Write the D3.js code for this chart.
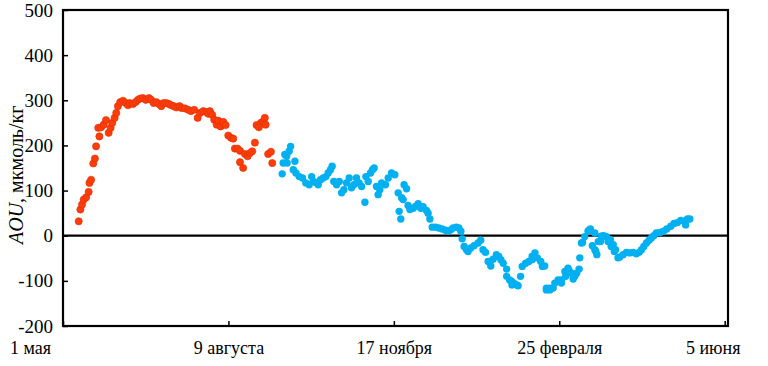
<!DOCTYPE html>
<html>
<head>
<meta charset="utf-8">
<script src="https://cdn.jsdelivr.net/npm/d3@7"></script>
<style>
  body { margin: 0; background: #fff; }
  svg text { font-family: "Liberation Serif", "Times New Roman", serif; }
</style>
</head>
<body>
<div id="chart"></div>
<script>
// Days counted from 1 May; values in мкмоль/кг
const redDays = [9.5, 10.5, 11.5, 12.5, 14, 15.5, 16, 17, 18.3, 19.3, 20, 22, 21.3, 23, 24.6, 26, 27.6, 28.8, 29.8,
  31.2, 32.2, 33.2, 34.6, 36.3, 37.9, 39.3, 40.3, 42.3, 43.9, 45.3, 46.7, 48.3, 50, 52, 53.3, 54.8, 56.4, 58, 59.4,
  60.8, 62.4, 64, 65.4, 67, 68.5, 70.5, 71.7, 73.7, 75.7, 77.3, 79.3, 81.4, 82.8, 84.8, 86.8, 87.8, 88.8, 90.2, 91.4,
  92.9, 93.8, 95.3, 96.9, 98.3, 99.9, 101.5, 102.9, 103.9, 105.5, 107, 107, 108.9, 110, 111.6, 113, 114.4, 116, 117,
  118.4, 119.6, 121, 122, 122.5, 124, 125.7, 126.5];
const redValues = [32, 58, 69, 80, 85, 97, 117, 124, 160, 171, 198, 220, 239, 240, 246, 256, 228, 239, 250,
  261, 272, 287, 296, 299, 294, 289, 294, 292, 296, 301, 304, 305, 301, 305, 301, 294, 296, 292, 287,
  294, 294, 292, 289, 287, 284, 287, 283, 282, 279, 276, 279, 261, 272, 276, 274, 270, 276, 268, 257,
  246, 255, 242, 252, 245, 222, 217, 215, 193, 193, 188, 163, 150, 181, 176, 183, 187, 206, 245,
  240, 250, 253, 261, 246, 181, 186, 161];

const blueDays = [132.5, 133.1, 134.1, 135.2, 135.5, 136.7, 137.6, 139.2, 140.2, 140.8, 142.8, 144.8, 146.8, 148.8,
  150.3, 151.3, 152.9, 154.3, 155.7, 157.3, 158.9, 160.3, 161.7, 162.7, 163.7, 165.4, 167, 168.4, 169.8, 171.4, 173,
  174.4, 175.8, 177.4, 179, 180.5, 182.5, 183.1, 184.5, 185.9, 187.1, 188.1, 189.5, 190.5, 191.5, 192.6, 194.9, 196.6,
  198.6, 200.6, 202.6, 203.2, 204.2, 204.7, 205.6, 206.2, 207.7, 208.6, 209.7, 211.7, 213.1, 214.7, 216.3, 217.7,
  219.7, 220.7, 221.8, 223.2, 225.2, 227.2, 229.2, 231.2, 232.8, 234.4, 235.8, 237.8, 239.3, 240.5, 241.3, 242.5,
  243.9, 244.9, 246.5, 248.5, 250.9, 252.5, 253.9, 255.4, 257, 258.6, 260, 262, 263.4, 264.7, 266.1, 268.2, 268.2,
  270, 271.1, 271.4, 272.5, 274.4, 275.1, 276.6, 277.6, 279.7, 281.6, 283.6, 283.6, 285.3, 286.7, 288.8, 289.8,
  291.2, 292.2, 292.2, 294.3, 294.3, 296.3, 297.3, 299.3, 301.3, 301.3, 303.4, 303.9, 305.3, 305.9, 307.4, 308.4,
  309.4, 310.5, 312, 312.4, 313.4, 314.1, 315.4, 317.4, 318, 318.8, 320, 321.5, 321.5, 322.1, 322.7, 323.6, 324.9,
  325.4, 326.5, 327.5, 328.5, 329.5, 330.9, 331.4, 332.6, 333.3, 334, 335.5, 336.6, 338.6, 340.6, 342.6, 344.6,
  346.6, 348.2, 349.7, 351.1, 352.7, 354.3, 355.7, 357.1, 358.7, 361, 363, 365, 367.4, 369.4, 371.4, 373.4, 375.4,
  376.4, 377.5, 378.9];
const blueValues = [137, 161, 180, 176, 161, 187, 198, 146, 165, 139, 131, 128, 117, 113,
  131, 120, 118, 113, 124, 128, 131, 139, 146, 154, 120, 113, 120, 95, 102, 117, 128,
  106, 113, 128, 117, 109, 74, 131, 120, 139, 146, 150, 109, 91, 102, 117, 113, 128,
  139, 135, 95, 54, 37, 84, 80, 113, 104, 67, 58, 61, 65, 71, 61, 64,
  56, 50, 37, 19, 19, 17, 15, 12, 10, 13, 17, 19, 17, 10, -7, -24,
  -31, -35, -27, -22, -16, -10, -31, -37, -57, -67, -52, -42, -46, -53, -61, -74, -90,
  -98, -101, -109, -105, -109, -111, -90, -68, -61, -57, -46, -53, -38, -49, -57, -68,
  -67, -116, -120, -120, -116, -116, -105, -98, -98, -105, -79, -90, -72, -77, -83, -96,
  -90, -83, -74, -49, -16, -15, -2, 10, 12, 15, -22, 6, -31, -35, -42, -13, -13,
  -1, 0, -1, -2, -13, -9, -24, -20, -35, -31, -49, -47, -42, -37, -38, -37,
  -40, -37, -31, -24, -16, -10, -5, 0, 6, 7, 10, 15, 21, 27, 29, 34, 32,
  24, 37, 37];

const yTicks = [-200, -100, 0, 100, 200, 300, 400, 500];
const xTicks = [0, 100, 200, 300, 400];
const xTickLabels = ["1 мая", "9 августа", "17 ноября", "25 февраля", "5 июня"];

const W = 768, H = 366;
const margin = { top: 10, right: 40, bottom: 40, left: 63 };
const width = W - margin.left - margin.right;
const height = H - margin.top - margin.bottom;

const svg = d3.select("#chart").append("svg")
  .attr("width", W)
  .attr("height", H);

const g = svg.append("g")
  .attr("transform", `translate(${margin.left},${margin.top})`);

const x = d3.scaleLinear().domain([0, 402]).range([0, width]);
const y = d3.scaleLinear().domain([-200, 500]).range([height, 0]);

// y axis, ticks pointing inward (plain hyphen for negatives, as in the original)
const yAxis = g.append("g")
  .call(d3.axisLeft(y).tickValues(yTicks).tickFormat(d => String(d))
    .tickSizeInner(-5).tickSizeOuter(0).tickPadding(10));
yAxis.select(".domain").remove();
yAxis.selectAll("line").attr("stroke", "#000").attr("stroke-width", 1.5);
yAxis.selectAll("text").attr("font-size", 19).attr("fill", "#000");

// x axis, ticks pointing up
const xAxis = g.append("g")
  .attr("transform", `translate(0,${height})`)
  .call(d3.axisBottom(x).tickValues(xTicks).tickFormat((d, i) => xTickLabels[i])
    .tickSizeInner(-5).tickSizeOuter(0).tickPadding(15));
xAxis.select(".domain").remove();
xAxis.selectAll("line").attr("stroke", "#000").attr("stroke-width", 1.5);
xAxis.selectAll("text").attr("font-size", 18).attr("fill", "#000");
// the end labels sit a little inward of their ticks in the original
xAxis.selectAll(".tick text")
  .attr("dx", (d, i) => i === 0 ? -33 : (i === xTicks.length - 1 ? -12 : 0));

// frame
g.append("rect")
  .attr("x", 0).attr("y", 0)
  .attr("width", width).attr("height", height)
  .attr("fill", "none")
  .attr("stroke", "#000")
  .attr("stroke-width", 2.2);

// zero line
g.append("line")
  .attr("x1", 0).attr("x2", width)
  .attr("y1", y(0)).attr("y2", y(0))
  .attr("stroke", "#000")
  .attr("stroke-width", 2.2);

// points
g.append("g").selectAll("circle")
  .data(blueDays.map((d, i) => [d, blueValues[i]]))
  .join("circle")
  .attr("cx", d => x(d[0]))
  .attr("cy", d => y(d[1]))
  .attr("r", 3.7)
  .attr("fill", "#00b0f0");

g.append("g").selectAll("circle")
  .data(redDays.map((d, i) => [d, redValues[i]]))
  .join("circle")
  .attr("cx", d => x(d[0]))
  .attr("cy", d => y(d[1]))
  .attr("r", 3.6)
  .attr("fill", "#ff3c0a")
  .attr("stroke", "#d93000")
  .attr("stroke-width", 0.6);

// y axis title
const title = svg.append("text")
  .attr("transform", `translate(23,${margin.top + y(135)}) rotate(-90)`)
  .attr("text-anchor", "middle")
  .attr("font-size", 20)
  .attr("fill", "#000");
title.append("tspan").attr("font-style", "italic").text("AOU");
title.append("tspan").text(", мкмоль/кг");
</script>
</body>
</html>
